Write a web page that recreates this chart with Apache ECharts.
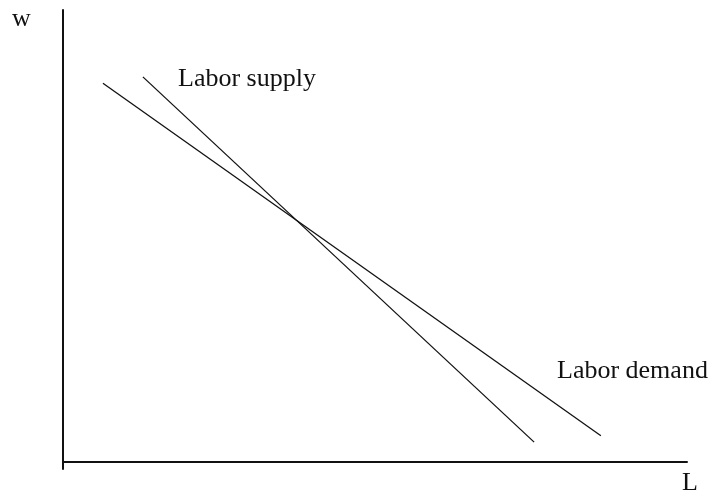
<!DOCTYPE html>
<html>
<head>
<meta charset="utf-8">
<script src="https://cdn.jsdelivr.net/npm/echarts@6/dist/echarts.min.js"></script>
<style>
  html, body { margin: 0; padding: 0; background: #fff; }
  #chart { width: 712px; height: 496px; }
</style>
</head>
<body>
<div id="chart"></div>
<script>
// values in axis units (L across 0..100, w up 0..100)
const demandPoints = [[6.4, 83.8], [86.2, 5.8]];
const supplyPoints = [[12.8, 85.2], [75.5, 4.4]];
const curveNames = ["Labor demand", "Labor supply"];
const axisNames = ["L", "w"];

const FONT = "'Liberation Serif', 'DejaVu Serif', serif";
const ink = "#111";

const chart = echarts.init(document.getElementById("chart"));

function textAt(text, left, top) {
	return {
		type: "text",
		left: left,
		top: top,
		style: { text: text, fill: ink, font: `26px ${FONT}` },
		silent: true,
	};
}

chart.setOption({
	animation: false,
	grid: { left: 63, right: 25, top: 10, bottom: 27 },
	xAxis: {
		type: "value",
		min: 0,
		max: 100,
		axisLine: { onZero: true, lineStyle: { color: ink, width: 2 } },
		axisTick: { show: false },
		axisLabel: { show: false },
		splitLine: { show: false },
	},
	yAxis: {
		type: "value",
		min: -1.55,
		max: 100,
		axisLine: { show: true, lineStyle: { color: ink, width: 2 } },
		axisTick: { show: false },
		axisLabel: { show: false },
		splitLine: { show: false },
	},
	series: [
		{
			name: curveNames[0],
			type: "line",
			data: demandPoints,
			symbol: "none",
			lineStyle: { color: ink, width: 1.3 },
		},
		{
			name: curveNames[1],
			type: "line",
			data: supplyPoints,
			symbol: "none",
			lineStyle: { color: ink, width: 1.3 },
		},
	],
	graphic: [
		textAt(axisNames[1], 12, 6),
		textAt(axisNames[0], 682, 470),
		textAt(curveNames[1], 178, 66),
		textAt(curveNames[0], 557, 358),
	],
});
</script>
</body>
</html>
